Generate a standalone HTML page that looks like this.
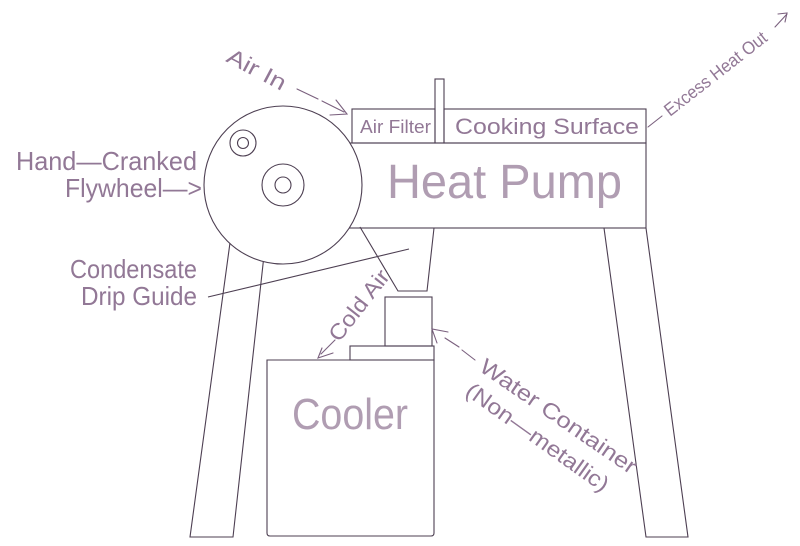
<!DOCTYPE html>
<html>
<head>
<meta charset="utf-8">
<style>
  html, body { margin: 0; padding: 0; background: #ffffff; }
  body { width: 800px; height: 546px; overflow: hidden; }
  svg { display: block; }
  .ln { fill: none; stroke: #4d3f52; stroke-width: 1.1; }
  .t { font-family: "Liberation Sans", sans-serif; fill: #927896; }
  .tb { font-family: "Liberation Sans", sans-serif; fill: #b09db2; }
  .ar { fill: none; stroke: #7a607e; stroke-width: 1.1; stroke-linecap: round; }
</style>
</head>
<body>
<svg width="800" height="546" viewBox="0 0 800 546" xmlns="http://www.w3.org/2000/svg">
  <!-- Heat pump main box -->
  <rect class="ln" x="300" y="143" width="346" height="85"/>
  <!-- Air filter box -->
  <rect class="ln" x="352" y="109" width="83" height="34"/>
  <!-- Chimney -->
  <rect class="ln" x="435" y="79" width="9" height="64"/>
  <!-- Cooking surface -->
  <rect class="ln" x="444" y="109" width="202" height="34"/>

  <!-- Left leg -->
  <polygon class="ln" points="232,228 267,228 233,537 190,537"/>
  <!-- Right leg -->
  <polygon class="ln" points="604,228 646,228 688,537 646,537"/>

  <!-- Drip guide -->
  <polyline class="ln" points="360,227 398,291 427,291 434,228"/>

  <!-- Flywheel -->
  <circle cx="283" cy="185" r="79" fill="#ffffff" stroke="#4d3f52" stroke-width="1.1"/>
  <circle class="ln" cx="243" cy="143" r="13"/>
  <circle class="ln" cx="243" cy="143" r="5.5"/>
  <circle class="ln" cx="283" cy="185" r="21"/>
  <circle class="ln" cx="283" cy="185" r="8"/>

  <!-- Water container -->
  <rect class="ln" x="385" y="297" width="47" height="49"/>
  <rect class="ln" x="350" y="346" width="84" height="14"/>
  <!-- Cooler -->
  <path class="ln" d="M267,360 L434,360 L434,533 Q434,536 431,536 L270,536 Q267,536 267,533 Z"/>

  <!-- Condensate leader -->
  <line class="ln" x1="208" y1="297" x2="409" y2="249"/>

  <!-- Labels -->
  <text class="t" x="16" y="170" font-size="26" textLength="181" lengthAdjust="spacingAndGlyphs">Hand—Cranked</text>
  <text class="t" x="65" y="197" font-size="26" textLength="137" lengthAdjust="spacingAndGlyphs">Flywheel—&gt;</text>
  <text class="t" x="70" y="278" font-size="26" textLength="127" lengthAdjust="spacingAndGlyphs">Condensate</text>
  <text class="t" x="81" y="305" font-size="26" textLength="116" lengthAdjust="spacingAndGlyphs">Drip Guide</text>

  <text class="tb" x="387" y="198" font-size="48" textLength="235" lengthAdjust="spacingAndGlyphs">Heat Pump</text>
  <text class="t" x="360" y="133" font-size="18" textLength="71" lengthAdjust="spacingAndGlyphs">Air Filter</text>
  <text class="t" x="455" y="134" font-size="22" textLength="184" lengthAdjust="spacingAndGlyphs">Cooking Surface</text>
  <text class="tb" x="292" y="429" font-size="44" textLength="116" lengthAdjust="spacingAndGlyphs">Cooler</text>

  <!-- Air In -->
  <text class="t" font-size="22" textLength="64" lengthAdjust="spacingAndGlyphs" transform="translate(225,61) rotate(28)">Air In</text>
  <line class="ar" x1="297" y1="89" x2="318" y2="99"/>
  <line class="ar" x1="322" y1="101" x2="344" y2="112"/>
  <polyline class="ar" points="336,100 347,114 330,115"/>

  <!-- Excess Heat Out -->
  <line class="ar" x1="648" y1="127" x2="662" y2="116"/>
  <text class="t" font-size="18" textLength="125" lengthAdjust="spacingAndGlyphs" transform="translate(670,117) rotate(-38)">Excess Heat Out</text>
  <line class="ar" x1="775" y1="27" x2="787" y2="14"/>
  <polyline class="ar" points="778,14 787,13 785,22"/>

  <!-- Cold Air -->
  <text class="t" font-size="22" textLength="84" lengthAdjust="spacingAndGlyphs" transform="translate(339,343) rotate(-52)">Cold Air</text>
  <line class="ar" x1="321" y1="354" x2="335" y2="340"/>
  <polyline class="ar" points="322,348 318,358 333,353"/>

  <!-- Water Container -->
  <text class="t" font-size="22" textLength="185" lengthAdjust="spacingAndGlyphs" transform="translate(478,370) rotate(34.5)">Water Container</text>
  <text class="t" font-size="22" textLength="170" lengthAdjust="spacingAndGlyphs" transform="translate(464,394) rotate(35.5)">(Non—metallic)</text>
  <line class="ar" x1="445" y1="338" x2="459" y2="347"/>
  <line class="ar" x1="462" y1="350" x2="475" y2="360"/>
  <polyline class="ar" points="448,332 432,329 437,343"/>
</svg>
</body>
</html>
